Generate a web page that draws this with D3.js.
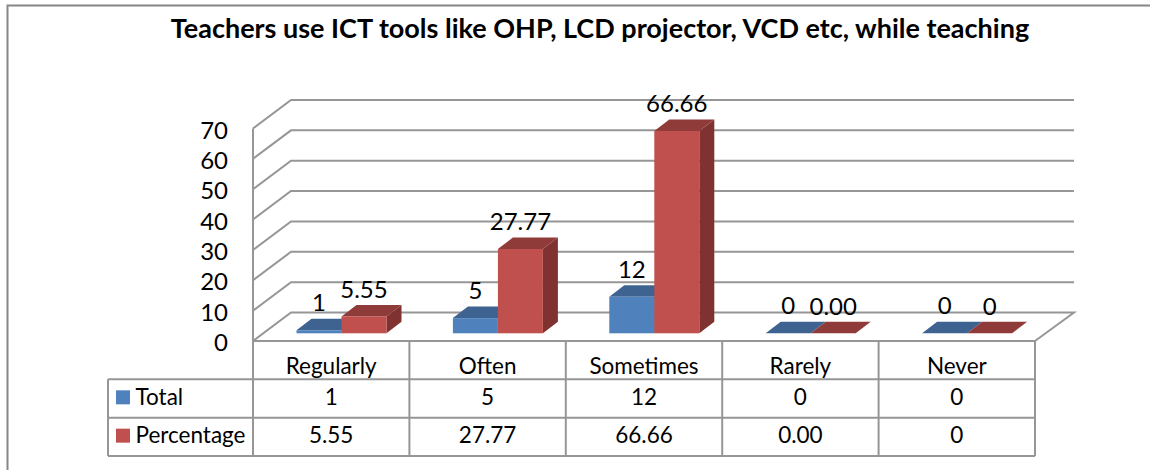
<!DOCTYPE html>
<html>
<head>
<meta charset="utf-8">
<script src="https://cdn.jsdelivr.net/npm/d3@7"></script>
<style>
  html, body { margin: 0; background: #fff; }
  text { font-family: Lato, "Open Sans", sans-serif; fill: #000; }
</style>
</head>
<body>
<svg id="chart"></svg>
<script>
const categories = ["Regularly", "Often", "Sometimes", "Rarely", "Never"];
const seriesNames = ["Total", "Percentage"];
const totalValues = [1, 5, 12, 0, 0];
const percentValues = [5.55, 27.77, 66.66, 0, 0];
const totalLabels = ["1", "5", "12", "0", "0"];
const percentLabels = ["5.55", "27.77", "66.66", "0.00", "0"];
const yTicks = [0, 10, 20, 30, 40, 50, 60, 70];

const gridColor = "#969696";
const colors = {
  Total: {front: "#4f81bd", top: "#3e6390", side: "#38597f"},
  Percentage: {front: "#c0504d", top: "#8f3b39", side: "#7f3230"}
};

const svg = d3.select("#chart").attr("width", 1150).attr("height", 470);

// Outer chart frame
svg.append("path")
  .attr("d", "M7.5,470V5.5H1150")
  .attr("fill", "none")
  .attr("stroke", "#868686")
  .attr("stroke-width", 2);

// Title
svg.append("text")
  .attr("x", 600)
  .attr("y", 38)
  .attr("text-anchor", "middle")
  .style("font-size", "27px")
  .style("font-weight", 700)
  .text("Teachers use ICT tools like OHP, LCD projector, VCD etc, while teaching");

// Scales
const y = d3.scaleLinear().domain([0, 70]).range([341, 128.5]);
const x = d3.scaleBand().domain(categories).range([253, 1035]);
const depth = {dx: 38, dy: -28.5};
const barDepth = {dx: 15, dy: -11.5};
const barBase = 333.3;
const barInset = 43.5;
const barW = 45;

// Back wall gridlines and left wall
const grid = svg.append("g")
  .attr("fill", "none")
  .attr("stroke", gridColor)
  .attr("stroke-width", 2);
yTicks.forEach(t => {
  const line = t === 0
    ? [[x.range()[0], y(t)], [x.range()[0] + depth.dx, y(t) + depth.dy], [x.range()[1] + depth.dx + 1, y(t) + depth.dy], [x.range()[1], y(t)]]
    : [[x.range()[0], y(t)], [x.range()[0] + depth.dx, y(t) + depth.dy], [x.range()[1] + depth.dx + 1, y(t) + depth.dy]];
  grid.append("path").attr("d", d3.line()(line));
});
grid.append("path").attr("d", d3.line()([[253, y(70)], [253, y(0)], [1035, y(0)]]));

// Y axis labels
svg.append("g")
  .selectAll("text")
  .data(yTicks)
  .join("text")
  .attr("x", 228)
  .attr("y", d => y(d) + 10)
  .attr("text-anchor", "end")
  .style("font-size", "24px")
  .text(d => d);

// Bars: percentage drawn after total so it overlaps the blue side
const h = v => y(0) - y(v);
function drawBar(g, x0, v, c) {
  const top = barBase - h(v);
  g.append("path")
    .attr("fill", c.side)
    .attr("d", d3.line()([[x0 + barW, barBase], [x0 + barW + barDepth.dx, barBase + barDepth.dy], [x0 + barW + barDepth.dx, top + barDepth.dy], [x0 + barW, top]]));
  g.append("path")
    .attr("fill", c.top)
    .attr("d", d3.line()([[x0, top], [x0 + barDepth.dx, top + barDepth.dy], [x0 + barW + barDepth.dx, top + barDepth.dy], [x0 + barW, top]]));
  g.append("rect")
    .attr("x", x0)
    .attr("y", top)
    .attr("width", barW)
    .attr("height", h(v))
    .attr("fill", c.front);
}

const bars = svg.append("g");
categories.forEach((cat, i) => {
  const x0 = x(cat) + barInset;
  drawBar(bars, x0, totalValues[i], colors.Total);
  drawBar(bars, x0 + barW, percentValues[i], colors.Percentage);
});

// Data labels
const labels = svg.append("g")
  .attr("text-anchor", "middle")
  .style("font-size", "24px");
categories.forEach((cat, i) => {
  const x0 = x(cat) + barInset;
  labels.append("text")
    .attr("x", x0 + barW / 2)
    .attr("y", barBase - h(totalValues[i]) - 19)
    .text(totalLabels[i]);
  labels.append("text")
    .attr("x", x0 + barW * 1.5)
    .attr("y", barBase - h(percentValues[i]) - 18.5)
    .text(percentLabels[i]);
});

// Data table
const rowY = d3.scalePoint().domain(["axis", ...seriesNames, "end"]).range([341, 456]);
const table = svg.append("g")
  .attr("fill", "none")
  .attr("stroke", gridColor)
  .attr("stroke-width", 2);
table.selectAll(".row")
  .data(["axis", ...seriesNames, "end"].slice(1))
  .join("path")
  .attr("d", d => `M108,${rowY(d)}H1035`);
table.selectAll(".col")
  .data(categories)
  .join("path")
  .attr("d", d => `M${x(d)},341V456`);
table.append("path").attr("d", "M1035,341V456");
table.append("path").attr("d", `M108,${rowY("Total")}V456`);

const cellText = svg.append("g")
  .style("font-size", "22.5px");
cellText.selectAll(".cat")
  .data(categories)
  .join("text")
  .attr("x", d => x(d) + x.bandwidth() / 2)
  .attr("y", 374)
  .attr("text-anchor", "middle")
  .text(d => d);

const rows = [totalLabels, percentLabels];
seriesNames.forEach((name, r) => {
  const yBase = rowY(name) + 25.5;
  cellText.append("rect")
    .attr("x", 116)
    .attr("y", rowY(name) + 11)
    .attr("width", 14)
    .attr("height", 14)
    .attr("fill", colors[name].front);
  cellText.append("text")
    .attr("x", 135.5)
    .attr("y", yBase)
    .text(name);
  categories.forEach((cat, i) => {
    cellText.append("text")
      .attr("x", x(cat) + x.bandwidth() / 2)
      .attr("y", yBase)
      .attr("text-anchor", "middle")
      .text(rows[r][i]);
  });
});
</script>
</body>
</html>
